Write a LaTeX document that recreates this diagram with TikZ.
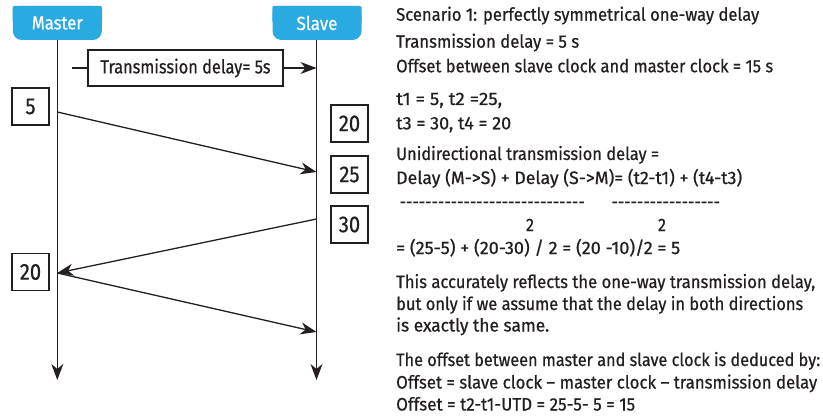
\documentclass[tikz,border=0pt]{standalone}
\usepackage{fontspec}
\usepackage{graphicx}
\setmainfont{Fira Sans}[FakeStretch=0.88,FakeBold=0.6]
\usetikzlibrary{arrows.meta,backgrounds}
\definecolor{hdrblue}{HTML}{29ABE2}
\definecolor{ink}{HTML}{231F20}
\newcommand\fitto[2]{\resizebox{#1}{\height}{#2}}
\tikzset{
 hdr/.style={fill=hdrblue,text=white,rounded corners=9pt,minimum width=89pt,minimum height=34pt,inner sep=0pt,font=\fontsize{19}{20}\selectfont},
 tip/.style={-{Stealth[length=16pt,width=12pt,inset=5pt]}},
 life/.style={draw=ink,line width=1.3pt,tip},
 msg/.style={draw=ink,line width=1.3pt,tip},
 plain/.style={draw=ink,line width=1.3pt},
 numbox/.style={draw=ink,line width=1.1pt,minimum width=37pt,minimum height=37pt,inner sep=0pt,font=\fontsize{23}{24}\selectfont,text=ink},
 tdbox/.style={draw=ink,line width=1.1pt,fill=white,minimum width=195pt,minimum height=36pt,inner sep=0pt,font=\fontsize{19}{20}\selectfont,text=ink},
 txt/.style={anchor=base west,inner sep=0pt,text=ink,font=\fontsize{18}{20}\selectfont},
 two/.style={anchor=base,inner sep=0pt,text=ink,font=\fontsize{18}{20}\selectfont},
}
\begin{document}
\begin{tikzpicture}[x=1pt,y=-1pt]
\useasboundingbox (0,0) rectangle (823,420);
% headers
\node[hdr] (master) at (57.3,23) {\fitto{51pt}{Master}};
\node[hdr] (slave) at (317,23) {\fitto{41pt}{Slave}};
\begin{scope}[on background layer]
\fill[hdrblue,rounded corners=2pt] (master.north west) rectangle (master.east);
\fill[hdrblue,rounded corners=2pt] (slave.north west) rectangle (slave.east);
\end{scope}
% lifelines
\coordinate (mend) at (57.3,380);
\coordinate (send) at (316.5,380);
\draw[life] (master.south -| mend) -- (mend);
\draw[life] (slave.south -| send) -- (send);
% transmission delay
\node[tdbox] (td) at (185.5,68) {\fitto{170pt}{Transmission delay= 5s}};
\coordinate (tds) at (72,68);
\coordinate (tde) at (316.5,68);
\draw[plain] (tds) -- (td);
\draw[msg] (td) -- (tde);
% messages
\coordinate (m1) at (57.3,112);
\coordinate (s1) at (316.5,172);
\coordinate (s2) at (316.5,219);
\coordinate (m2) at (57.3,273);
\coordinate (s3) at (316.5,332);
\draw[msg] (m1) -- (s1);
\draw[msg] (s2) -- (m2);
\draw[msg] (m2) -- (s3);
% time boxes
\node[numbox] (b5) at (30.5,106.5) {5};
\node[numbox] (b20r) at (349.5,123.5) {20};
\node[numbox] (b25) at (349.5,174.5) {25};
\node[numbox] (b30) at (349.5,224.5) {30};
\node[numbox] (b20l) at (30.5,272) {20};
% text
\node[txt] (l1) at (396,20.7) {\fitto{363pt}{Scenario 1: perfectly symmetrical one-way delay}};
\node[txt] (l2) at (396,47.7) {\fitto{183pt}{Transmission delay = 5 s}};
\node[txt] (l3) at (396,72.3) {\fitto{377pt}{Offset between slave clock and master clock = 15 s}};
\node[txt] (l4) at (396,105) {\fitto{106pt}{t1 = 5, t2 =25,}};
\node[txt] (l5) at (396,129.3) {\fitto{115pt}{t3 = 30, t4 = 20}};
\node[txt] (l6) at (396,160) {\fitto{263pt}{Unidirectional transmission delay =}};
\node[txt] (l7) at (396,184) {\fitto{346pt}{Delay (M->S) + Delay (S->M)= (t2-t1) + (t4-t3)}};
\node[txt] (l8a) at (397,208) {\hbox to 190pt{\cleaders\hbox{-}\hfill}};
\node[txt] (l8b) at (610,208) {\hbox to 111pt{\cleaders\hbox{-}\hfill}};
\node[two] (l9a) at (530,231) {2};
\node[two] (l9b) at (662,231) {2};
\node[txt] (l10) at (396,254) {\fitto{284pt}{= (25-5) + (20-30) / 2 = (20 -10)/2 = 5}};
\node[txt] (l11) at (396,288) {\fitto{419pt}{This accurately reflects the one-way transmission delay,}};
\node[txt] (l12) at (396,310) {\fitto{407pt}{but only if we assume that the delay in both directions}};
\node[txt] (l13) at (396,331.5) {\fitto{153pt}{is exactly the same.}};
\node[txt] (l14) at (396,366) {\fitto{424pt}{The offset between master and slave clock is deduced by:}};
\node[txt] (l15) at (396,388.5) {\fitto{421pt}{Offset = slave clock -- master clock -- transmission delay}};
\node[txt] (l16) at (396,410.5) {\fitto{239pt}{Offset = t2-t1-UTD = 25-5- 5 = 15}};
\end{tikzpicture}
\end{document}
